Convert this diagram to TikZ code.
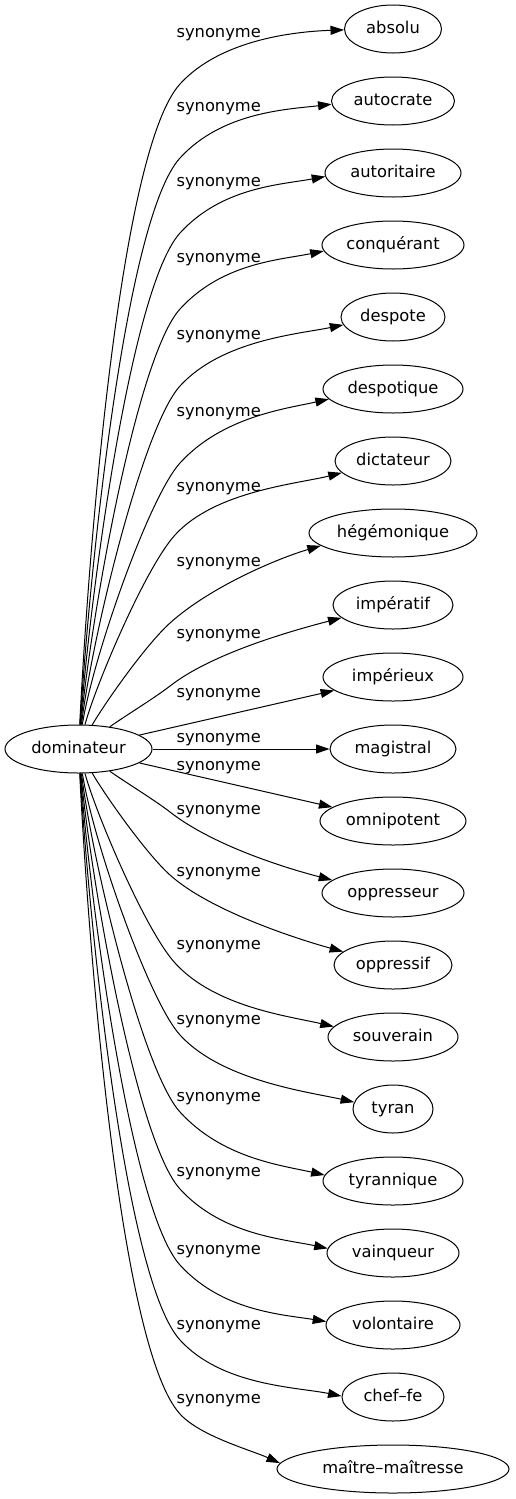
\documentclass[tikz,border=0pt]{standalone}
\usepackage{fontspec}
\setmainfont{DejaVu Sans}
\usetikzlibrary{shapes.geometric,arrows.meta}
\begin{document}
\begin{tikzpicture}[x=1pt,y=-1pt,
  tgt/.style={draw, ellipse, minimum height=48pt, inner sep=0pt, line width=1pt,
    font=\fontsize{16.3}{19}\selectfont, text height=12.4pt, text depth=3.9pt},
  lbl/.style={anchor=base, inner sep=0pt, font=\fontsize{16.3}{19}\selectfont},
  edge/.style={draw, line width=1pt, -{Triangle[length=13.5pt,width=9pt]}}]
\useasboundingbox (0,0) rectangle (515,1499);

\node[tgt, minimum width=147pt] (dom) at (78.5,749) {dominateur};

\node[tgt, minimum width=97pt]  (absolu)      at (393,29)   {absolu};
\node[tgt, minimum width=123pt] (autocrate)   at (393,101)  {autocrate};
\node[tgt, minimum width=136pt] (autoritaire) at (393,173)  {autoritaire};
\node[tgt, minimum width=142pt] (conquerant)  at (393,245)  {conquérant};
\node[tgt, minimum width=104pt] (despote)     at (393,317)  {despote};
\node[tgt, minimum width=140pt] (despotique)  at (393,389)  {despotique};
\node[tgt, minimum width=116pt] (dictateur)   at (393,461)  {dictateur};
\node[tgt, minimum width=168pt] (hegemonique) at (393,533)  {hégémonique};
\node[tgt, minimum width=120pt] (imperatif)   at (393,605)  {impératif};
\node[tgt, minimum width=140pt] (imperieux)   at (393,677)  {impérieux};
\node[tgt, minimum width=126pt] (magistral)   at (393,749)  {magistral};
\node[tgt, minimum width=146pt] (omnipotent)  at (393,821)  {omnipotent};
\node[tgt, minimum width=142pt] (oppresseur)  at (393,893)  {oppresseur};
\node[tgt, minimum width=118pt] (oppressif)   at (393,965)  {oppressif};
\node[tgt, minimum width=130pt] (souverain)   at (393,1037) {souverain};
\node[tgt, minimum width=80pt]  (tyran)       at (393,1109) {tyran};
\node[tgt, minimum width=140pt] (tyrannique)  at (393,1181) {tyrannique};
\node[tgt, minimum width=132pt] (vainqueur)   at (393,1253) {vainqueur};
\node[tgt, minimum width=134pt] (volontaire)  at (393,1325) {volontaire};
\node[tgt, minimum width=102pt] (cheffe)      at (393,1397) {chef–fe};
\node[tgt, minimum width=232pt] (maitre)      at (393,1469) {maître–maîtresse};

\node[lbl] (s01) at (218.7,37)   {synonyme};
\node[lbl] (s02) at (218.7,111)  {synonyme};
\node[lbl] (s03) at (218.7,186)  {synonyme};
\node[lbl] (s04) at (218.7,262)  {synonyme};
\node[lbl] (s05) at (218.7,339)  {synonyme};
\node[lbl] (s06) at (218.7,416)  {synonyme};
\node[lbl] (s07) at (218.7,491)  {synonyme};
\node[lbl] (s08) at (218.7,566)  {synonyme};
\node[lbl] (s09) at (218.7,638)  {synonyme};
\node[lbl] (s10) at (218.7,697)  {synonyme};
\node[lbl] (s11) at (218.7,742)  {synonyme};
\node[lbl] (s12) at (218.7,770.5){synonyme};
\node[lbl] (s13) at (218.7,814)  {synonyme};
\node[lbl] (s14) at (218.7,876)  {synonyme};
\node[lbl] (s15) at (218.7,949)  {synonyme};
\node[lbl] (s16) at (218.7,1024) {synonyme};
\node[lbl] (s17) at (218.7,1101) {synonyme};
\node[lbl] (s18) at (218.7,1176) {synonyme};
\node[lbl] (s19) at (218.7,1254) {synonyme};
\node[lbl] (s20) at (218.7,1329) {synonyme};
\node[lbl] (s21) at (218.7,1403) {synonyme};

% upper edges
\draw[edge] (dom) .. controls (88,558) and (119,151) .. (180,84) .. controls (222,38) and (299.5,31.4) .. (absolu.181);
\draw[edge] (dom) .. controls (89,578) and (124.6,218.9) .. (180,158) .. controls (222,112) and (287,109.4) .. (autocrate.183);
\draw[edge] (dom) .. controls (90,597) and (130.6,287.3) .. (180,233) .. controls (222,187) and (281,184.7) .. (autoritaire.183);
\draw[edge] (dom) .. controls (91,617) and (136.7,356.6) .. (180,309) .. controls (222,263) and (279.3,260) .. (conquerant.185);
\draw[edge] (dom) .. controls (92,637) and (142.9,426.8) .. (180,386) .. controls (222,340) and (299,334) .. (despote.189);
\draw[edge] (dom) .. controls (93,657) and (149,497.1) .. (180,463) .. controls (222,417) and (284.4,408.9) .. (despotique.189);
\draw[edge] (dom) .. controls (95,687) and (145,568) .. (175,535) .. controls (215,491) and (297.8,483.8) .. (dictateur.193);
\draw[edge] (dom) .. controls (103,706) and (145,645.5) .. (170,623) .. controls (210,587) and (277,558.6) .. (hegemonique.190);
\draw[edge] (dom) .. controls (125,716) and (155,697.7) .. (170,686) .. controls (212,653.2) and (292.6,630.5) .. (imperatif.194);

% straight edges
\draw[edge] (dom) -- (imperieux);
\draw[edge] (dom) -- (magistral);
\draw[edge] (dom) -- (omnipotent);

% lower edges
\draw[edge] (dom) .. controls (125,782) and (155,800.3) .. (170,812) .. controls (212,844.8) and (283.3,867.5) .. (oppresseur.168);
\draw[edge] (dom) .. controls (103,792) and (145,852.5) .. (170,875) .. controls (210,911) and (298.4,939.4) .. (oppressif.165);
\draw[edge] (dom) .. controls (95,811) and (145,930) .. (175,963) .. controls (215,1007) and (288.9,1016.2) .. (souverain.170);
\draw[edge] (dom) .. controls (93,841) and (149,1000.9) .. (180,1035) .. controls (222,1081) and (309.7,1092.1) .. (tyran.170);
\draw[edge] (dom) .. controls (92,861) and (142.9,1071.2) .. (180,1112) .. controls (222,1158) and (280.2,1165.1) .. (tyrannique.175);
\draw[edge] (dom) .. controls (91,881) and (136.7,1141.4) .. (180,1189) .. controls (222,1235) and (283.5,1239) .. (vainqueur.176);
\draw[edge] (dom) .. controls (90,901) and (130.6,1210.7) .. (180,1265) .. controls (222,1311) and (281.5,1314.4) .. (volontaire.177);
\draw[edge] (dom) .. controls (89,920) and (124.6,1279.1) .. (180,1340) .. controls (222,1386) and (297,1387) .. (cheffe.179);
\draw[edge] (dom) .. controls (88,940) and (119,1347) .. (180,1414) .. controls (200,1436) and (250.7,1450) .. (maitre.177);
\end{tikzpicture}
\end{document}
